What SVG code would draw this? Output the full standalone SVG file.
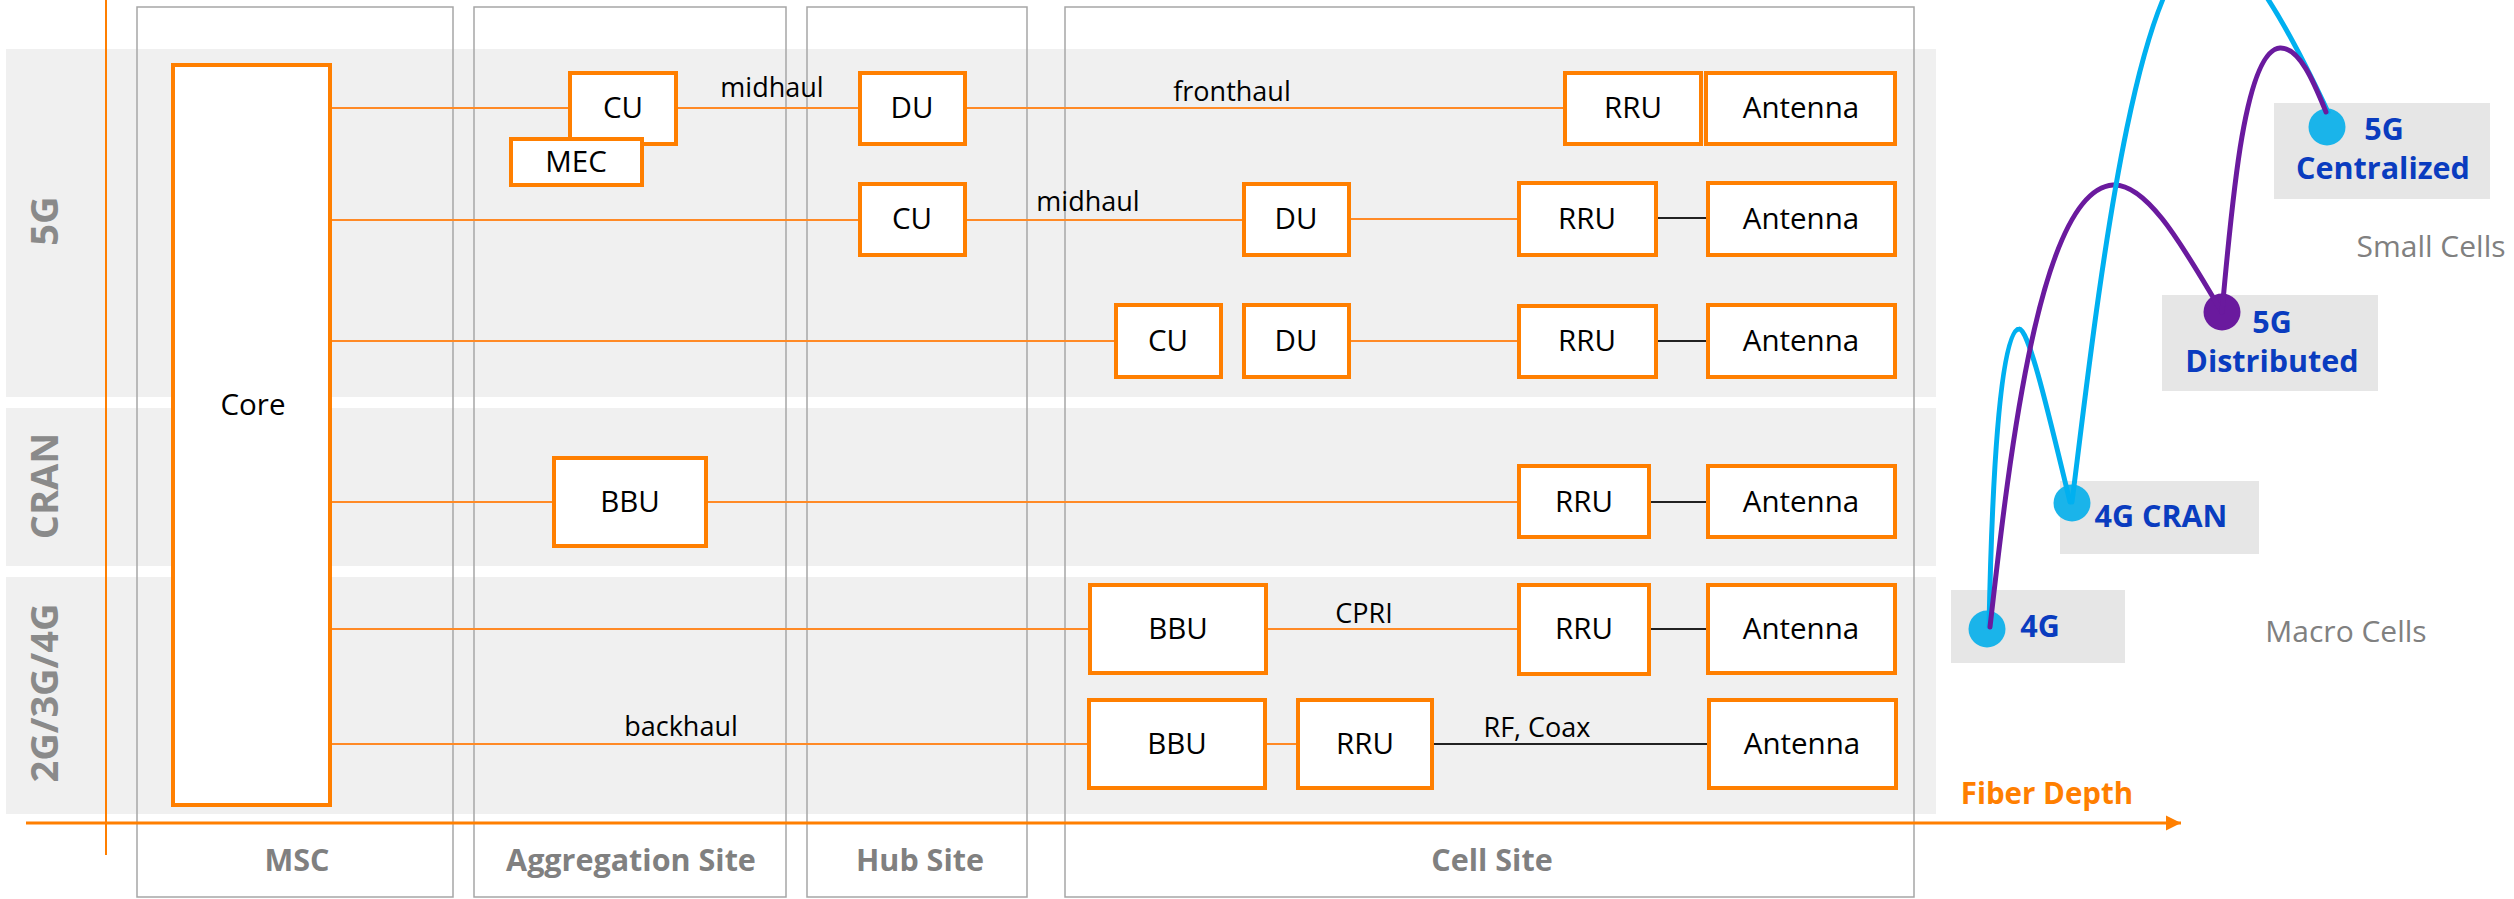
<svg xmlns="http://www.w3.org/2000/svg" width="2514" height="899" viewBox="0 0 2514 899">
<style>
.band{fill:#f0f0f0}
.col{fill:none;stroke:#a6a6a6;stroke-width:1.5}
.box{fill:#ffffff;stroke:#ff7f00;stroke-width:4}
.lbl{font-family:"Open Sans","Liberation Sans",sans-serif;font-size:29.5px;fill:#000;text-anchor:middle}
.link{font-family:"Open Sans","Liberation Sans",sans-serif;font-size:27px;fill:#000;text-anchor:middle}
.colt{font-family:"Open Sans","Liberation Sans",sans-serif;font-size:30.5px;font-weight:700;fill:#808080;text-anchor:middle}
.rowt{font-family:"Open Sans","Liberation Sans",sans-serif;font-size:38px;font-weight:700;fill:#8a8a8a;text-anchor:middle}
.ol{stroke:#ff8a26;stroke-width:2;fill:none}
.bl{stroke:#222;stroke-width:2;fill:none}
.tag{fill:#e6e6e6}
.tagt{font-family:"Open Sans","Liberation Sans",sans-serif;font-size:30.5px;font-weight:700;fill:#0a3cbf;text-anchor:middle}
.gray{font-family:"Open Sans","Liberation Sans",sans-serif;font-size:30px;fill:#808080;text-anchor:middle}
.cb{stroke:#00b0f0;stroke-width:5;fill:none;stroke-linecap:round}
.cp{stroke:#6a1a9e;stroke-width:5;fill:none;stroke-linecap:round}
</style>
<defs>
<marker id="arr" markerWidth="16" markerHeight="16" refX="15" refY="8" orient="auto" markerUnits="userSpaceOnUse"><path d="M0,0.5 L15,8 L0,15.5 z" fill="#ff7f00"/></marker>
</defs>
<rect width="2514" height="899" fill="#ffffff"/>
<g id="bands">
<rect class="band" x="6" y="49" width="1930" height="348"/>
<rect class="band" x="6" y="408" width="1930" height="158"/>
<rect class="band" x="6" y="577" width="1930" height="237"/>
</g>
<g id="columns">
<rect class="col" x="137" y="7" width="316" height="890"/>
<rect class="col" x="474" y="7" width="312" height="890"/>
<rect class="col" x="807" y="7" width="220" height="890"/>
<rect class="col" x="1065" y="7" width="849" height="890"/>
<text class="colt" x="297" y="871">MSC</text>
<text class="colt" x="631" y="871">Aggregation Site</text>
<text class="colt" x="920" y="871">Hub Site</text>
<text class="colt" x="1492" y="871">Cell Site</text>
</g>
<g id="row-labels">
<text class="rowt" transform="translate(58,221) rotate(-90)">5G</text>
<text class="rowt" transform="translate(58,486) rotate(-90)">CRAN</text>
<text class="rowt" transform="translate(58,693) rotate(-90)">2G/3G/4G</text>
</g>
<g id="axes">
<line x1="106" y1="0" x2="106" y2="855" stroke="#ff7f00" stroke-width="2"/>
<line x1="26" y1="823" x2="2181" y2="823" stroke="#ff7f00" stroke-width="3" marker-end="url(#arr)"/>
<text x="2047" y="804" font-family="Open Sans, Liberation Sans, sans-serif" font-size="29.5" font-weight="700" fill="#ff7f00" text-anchor="middle">Fiber Depth</text>
</g>
<g id="connectors">
<line class="ol" x1="332" y1="108" x2="568" y2="108"/>
<line class="ol" x1="678" y1="108" x2="858" y2="108"/>
<line class="ol" x1="967" y1="108" x2="1563" y2="108"/>
<line class="ol" x1="332" y1="220" x2="858" y2="220"/>
<line class="ol" x1="967" y1="220" x2="1242" y2="220"/>
<line class="ol" x1="1351" y1="219" x2="1517" y2="219"/>
<line class="bl" x1="1658" y1="218" x2="1706" y2="218"/>
<line class="ol" x1="332" y1="341" x2="1114" y2="341"/>
<line class="ol" x1="1351" y1="341" x2="1517" y2="341"/>
<line class="bl" x1="1658" y1="341" x2="1706" y2="341"/>
<line class="ol" x1="332" y1="502" x2="552" y2="502"/>
<line class="ol" x1="708" y1="502" x2="1517" y2="502"/>
<line class="bl" x1="1651" y1="502" x2="1706" y2="502"/>
<line class="ol" x1="332" y1="629" x2="1088" y2="629"/>
<line class="ol" x1="1268" y1="629" x2="1517" y2="629"/>
<line class="bl" x1="1651" y1="629" x2="1706" y2="629"/>
<line class="ol" x1="332" y1="744" x2="1087" y2="744"/>
<line class="ol" x1="1267" y1="744" x2="1296" y2="744"/>
<line class="bl" x1="1434" y1="744" x2="1707" y2="744"/>
<text class="link" x="772" y="97">midhaul</text>
<text class="link" x="1232" y="101">fronthaul</text>
<text class="link" x="1088" y="211">midhaul</text>
<text class="link" x="1364" y="623">CPRI</text>
<text class="link" x="681" y="736">backhaul</text>
<text class="link" x="1537" y="737">RF, Coax</text>
</g>
<g id="core"><rect class="box" x="173" y="65" width="157" height="740"/><text class="lbl" x="253" y="415">Core</text></g>
<g id="cu1"><rect class="box" x="570" y="73" width="106" height="71"/><text class="lbl" x="623" y="118">CU</text></g>
<g id="mec"><rect class="box" x="511" y="139" width="131" height="46"/><text class="lbl" x="576" y="172">MEC</text></g>
<g id="du1"><rect class="box" x="860" y="73" width="105" height="71"/><text class="lbl" x="912" y="118">DU</text></g>
<g id="rru1"><rect class="box" x="1565" y="73" width="136" height="71"/><text class="lbl" x="1633" y="118">RRU</text></g>
<g id="ant1"><rect class="box" x="1706" y="73" width="189" height="71"/><text class="lbl" x="1801" y="118">Antenna</text></g>
<g id="cu2"><rect class="box" x="860" y="184" width="105" height="71"/><text class="lbl" x="912" y="229">CU</text></g>
<g id="du2"><rect class="box" x="1244" y="184" width="105" height="71"/><text class="lbl" x="1296" y="229">DU</text></g>
<g id="rru2"><rect class="box" x="1519" y="183" width="137" height="72"/><text class="lbl" x="1587" y="229">RRU</text></g>
<g id="ant2"><rect class="box" x="1708" y="183" width="187" height="72"/><text class="lbl" x="1801" y="229">Antenna</text></g>
<g id="cu3"><rect class="box" x="1116" y="305" width="105" height="72"/><text class="lbl" x="1168" y="351">CU</text></g>
<g id="du3"><rect class="box" x="1244" y="305" width="105" height="72"/><text class="lbl" x="1296" y="351">DU</text></g>
<g id="rru3"><rect class="box" x="1519" y="306" width="137" height="71"/><text class="lbl" x="1587" y="351">RRU</text></g>
<g id="ant3"><rect class="box" x="1708" y="305" width="187" height="72"/><text class="lbl" x="1801" y="351">Antenna</text></g>
<g id="bbu-cran"><rect class="box" x="554" y="458" width="152" height="88"/><text class="lbl" x="630" y="512">BBU</text></g>
<g id="rru-cran"><rect class="box" x="1519" y="466" width="130" height="71"/><text class="lbl" x="1584" y="512">RRU</text></g>
<g id="ant-cran"><rect class="box" x="1708" y="466" width="187" height="71"/><text class="lbl" x="1801" y="512">Antenna</text></g>
<g id="bbu-4g1"><rect class="box" x="1090" y="585" width="176" height="88"/><text class="lbl" x="1178" y="639">BBU</text></g>
<g id="rru-4g1"><rect class="box" x="1519" y="585" width="130" height="89"/><text class="lbl" x="1584" y="639">RRU</text></g>
<g id="ant-4g1"><rect class="box" x="1708" y="585" width="187" height="88"/><text class="lbl" x="1801" y="639">Antenna</text></g>
<g id="bbu-4g2"><rect class="box" x="1089" y="700" width="176" height="88"/><text class="lbl" x="1177" y="754">BBU</text></g>
<g id="rru-4g2"><rect class="box" x="1298" y="700" width="134" height="88"/><text class="lbl" x="1365" y="754">RRU</text></g>
<g id="ant-4g2"><rect class="box" x="1709" y="700" width="187" height="88"/><text class="lbl" x="1802" y="754">Antenna</text></g>
<g id="tag-5gc"><rect class="tag" x="2274" y="103" width="216" height="96"/><text class="tagt" x="2384" y="140">5G</text><text class="tagt" x="2383" y="179">Centralized</text><circle cx="2327" cy="127" r="18.5" fill="#1ab4ea"/></g>
<g id="tag-5gd"><rect class="tag" x="2162" y="295" width="216" height="96"/><text class="tagt" x="2272" y="333">5G</text><text class="tagt" x="2272" y="372">Distributed</text><circle cx="2222" cy="312" r="18.5" fill="#6a1a9e"/></g>
<g id="tag-4gcran"><rect class="tag" x="2060" y="481" width="199" height="73"/><text class="tagt" x="2161" y="527">4G CRAN</text><circle cx="2072" cy="503" r="18.5" fill="#1ab4ea"/></g>
<g id="tag-4g"><rect class="tag" x="1951" y="590" width="174" height="73"/><text class="tagt" x="2040" y="637">4G</text><circle cx="1987" cy="629" r="18.5" fill="#1ab4ea"/></g>
<g id="evolution-curves">
<path class="cb" d="M1989,627 C1992,480 2000,330 2019,329 C2029,328 2050,420 2070,502"/>
<path class="cp" d="M1990,627 C2010,450 2040,190 2113,185 C2150,183 2190,260 2222,312"/>
<path class="cb" d="M2072,502 C2095,320 2135,-55 2210,-55 C2240,-57 2285,20 2328,112"/>
<path class="cp" d="M2222,312 C2232,200 2245,50 2280,48 C2300,47 2315,85 2326,112"/>
</g>
<text class="gray" x="2431" y="257">Small Cells</text>
<text class="gray" x="2346" y="642">Macro Cells</text>
</svg>
